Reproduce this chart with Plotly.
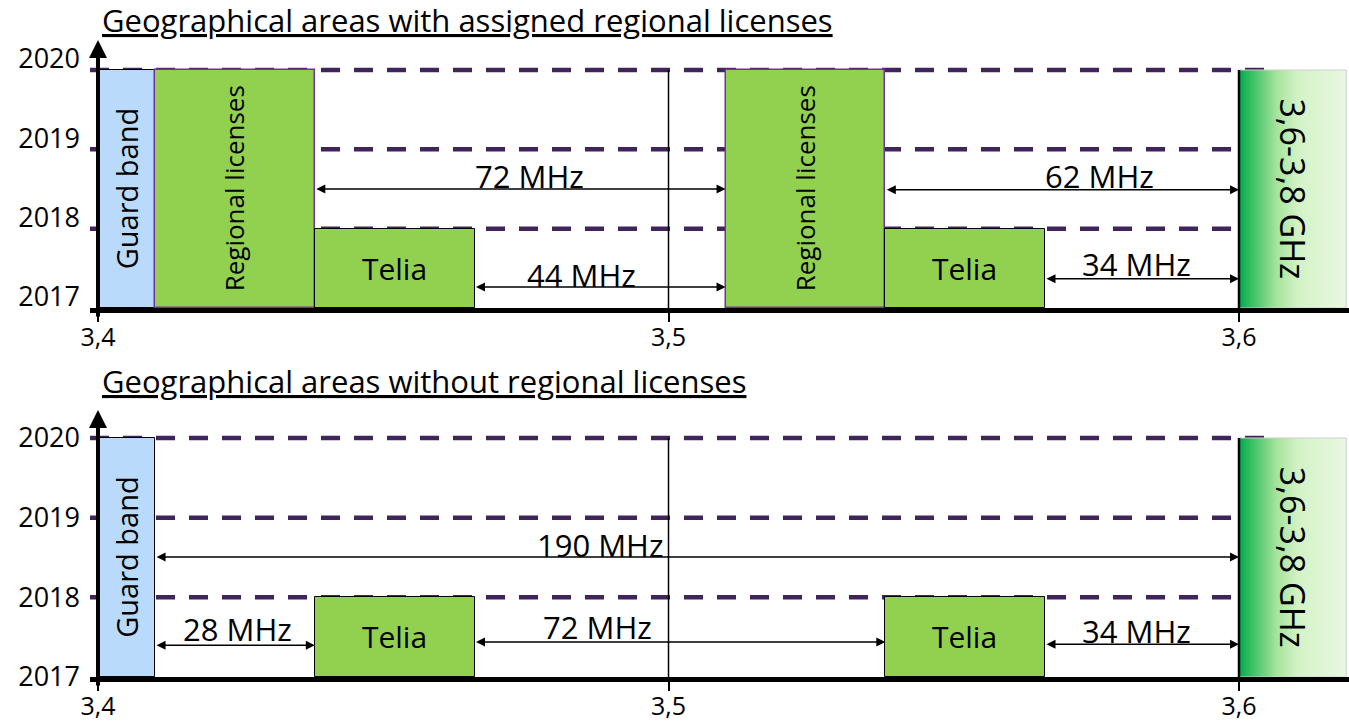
import plotly.graph_objects as go

# ---------------- data ----------------
YEARS = [2017, 2018, 2019, 2020]
YEAR_LABELS = ["2017", "2018", "2019", "2020"]
X_TICKS = [3.4, 3.5, 3.6]
X_TICK_LABELS = ["3,4", "3,5", "3,6"]

TITLES = ["Geographical areas with assigned regional licenses",
          "Geographical areas without regional licenses"]

# frequency blocks (GHz): left edge, right edge, top year
guard_left, guard_right, guard_top = 3.400, 3.410, 2020
regional_left = [3.410, 3.510]
regional_right = [3.438, 3.538]
regional_top = [2020, 2020]
telia_left = [3.438, 3.538]
telia_right = [3.466, 3.566]
telia_top = [2018, 2018]
band36_left, band36_right, band36_top = 3.600, 3.6188, 2020

# spacing arrows, panel 1 (with regional licenses)
top_arrow_from = [3.438, 3.466, 3.538, 3.566]
top_arrow_to = [3.510, 3.510, 3.600, 3.600]
top_arrow_y = [2018.50, 2017.265, 2018.49, 2017.37]
top_arrow_text = ["72 MHz", "44 MHz", "62 MHz", "34 MHz"]
top_text_x = [3.4757, 3.4847, 3.5756, 3.5821]
top_text_y = [2018.66, 2017.42, 2018.66, 2017.555]

# spacing arrows, panel 2 (without regional licenses)
bot_arrow_from = [3.410, 3.410, 3.466, 3.566]
bot_arrow_to = [3.600, 3.438, 3.538, 3.600]
bot_arrow_y = [2018.506, 2017.40, 2017.44, 2017.41]
bot_arrow_text = ["190 MHz", "28 MHz", "72 MHz", "34 MHz"]
bot_text_x = [3.488, 3.4245, 3.4876, 3.5821]
bot_text_y = [2018.657, 2017.60, 2017.63, 2017.58]

# ---------------- styling ----------------
W, H = 1349, 724
FONT = "Open Sans"
GREEN = "#92d050"
BLUE = "#b9dafa"
DASH_COLOR = "#41245a"
PURPLE_EDGE = "#7030a0"
PX_PER_GHZ = 5705.0
X0_PX = 98.0
x_range = [3.4 - 8 / PX_PER_GHZ, 3.4 + (W - X0_PX) / PX_PER_GHZ]
x_domain = [90 / W, 1.0]

panels = [
    dict(xa="x", ya="y", xname="xaxis", yname="yaxis",
         bottom_px=308, top_px=40, year_px=79.33, shift=-11,
         regional=True, title_px=20,
         arrows=(top_arrow_from, top_arrow_to, top_arrow_y, top_arrow_text, top_text_x, top_text_y)),
    dict(xa="x2", ya="y2", xname="xaxis2", yname="yaxis2",
         bottom_px=677, top_px=410, year_px=79.67, shift=0,
         regional=False, title_px=381,
         arrows=(bot_arrow_from, bot_arrow_to, bot_arrow_y, bot_arrow_text, bot_text_x, bot_text_y)),
]

fig = go.Figure()
shapes = []
annotations = []
layout_axes = {}


def bar(xa, ya, lefts, rights, tops, color, line_color, line_width, text, angle, size):
    fig.add_trace(go.Bar(
        x=[(l + r) / 2 for l, r in zip(lefts, rights)],
        y=[t - YEARS[0] for t in tops],
        base=[YEARS[0]] * len(lefts),
        width=[r - l for l, r in zip(lefts, rights)],
        marker=dict(color=color, line=dict(color=line_color, width=line_width)),
        text=[text] * len(lefts), textposition="inside", insidetextanchor="middle",
        textangle=angle, constraintext="none",
        textfont=dict(family=FONT, size=size, color="black"),
        xaxis=xa, yaxis=ya, showlegend=False, hoverinfo="skip"))


for i, p in enumerate(panels):
    xa, ya = p["xa"], p["ya"]
    yr_top = YEARS[0] + (p["bottom_px"] - p["top_px"]) / p["year_px"]
    below = YEARS[0] - 10 / p["year_px"]
    layout_axes[p["xname"]] = dict(
        domain=x_domain, range=x_range, anchor=ya, showgrid=False, zeroline=False,
        automargin=False,
        showline=True, linecolor="black", linewidth=4.5,
        tickvals=X_TICKS, ticktext=X_TICK_LABELS, ticks="outside", ticklen=9,
        tickwidth=1.5, tickcolor="black", ticklabelstandoff=-6,
        tickfont=dict(family=FONT, size=25, color="black"), fixedrange=True)
    layout_axes[p["yname"]] = dict(
        domain=[1 - p["bottom_px"] / H, 1 - p["top_px"] / H],
        range=[YEARS[0], yr_top], anchor=xa, showgrid=False, zeroline=False,
        automargin=False,
        showline=False, tickvals=YEARS, ticktext=YEAR_LABELS, ticks="",
        ticklabelstandoff=9, ticklabelshift=p["shift"],
        tickfont=dict(family=FONT, size=27, color="black"), fixedrange=True)

    # dashed year lines (below marks)
    for yv in YEARS[1:]:
        shapes.append(dict(type="line", xref=xa, yref=ya, layer="below",
                           x0=x_range[0], x1=3.4 + (1275 - X0_PX) / PX_PER_GHZ, y0=yv, y1=yv,
                           line=dict(color=DASH_COLOR, width=4.5, dash="19px,14px")))

    # blocks
    bar(xa, ya, [guard_left], [guard_right], [guard_top], BLUE, "black", 1,
        "Guard band", -90, 29)
    if p["regional"]:
        bar(xa, ya, regional_left, regional_right, regional_top, GREEN, PURPLE_EDGE, 1.5,
            "Regional licenses", -90, 26)
    bar(xa, ya, telia_left, telia_right, telia_top, GREEN, "black", 1, "Telia", 0, 30)

    # 3.6-3.8 GHz gradient block
    fig.add_trace(go.Scatter(
        x=[band36_left, band36_right, band36_right, band36_left, band36_left],
        y=[YEARS[0], YEARS[0], band36_top, band36_top, YEARS[0]],
        mode="lines", fill="toself", line=dict(color="#cfcfcf", width=1),
        fillgradient=dict(type="horizontal", colorscale=[
            [0.0, "#00a84f"], [0.12, "#3cc064"], [0.35, "#a6e39c"],
            [0.55, "#d3f2c6"], [1.0, "#eaf8e2"]]),
        xaxis=xa, yaxis=ya, showlegend=False, hoverinfo="skip"))
    annotations.append(dict(xref=xa, yref=ya, x=(band36_left + band36_right) / 2,
                            y=(YEARS[0] + band36_top) / 2, text="3,6-3,8 GHz",
                            textangle=90, showarrow=False,
                            font=dict(family=FONT, size=34, color="black")))

    # vertical reference lines
    shapes.append(dict(type="line", xref=xa, yref=ya, layer="above",
                       x0=3.5, x1=3.5, y0=YEARS[0], y1=YEARS[-1],
                       line=dict(color="black", width=1.5)))
    shapes.append(dict(type="line", xref=xa, yref=ya, layer="above",
                       x0=band36_left, x1=band36_left, y0=YEARS[0], y1=band36_top,
                       line=dict(color="black", width=2.5)))

    # y-axis arrow
    annotations.append(dict(xref=xa, yref=ya, axref=xa, ayref=ya,
                            x=3.4, y=yr_top, ax=3.4, ay=below, text="",
                            showarrow=True, arrowhead=2, arrowsize=0.9,
                            arrowwidth=4, arrowcolor="black", standoff=0, startstandoff=0))

    # spacing arrows with labels
    a_from, a_to, a_y, a_text, t_x, t_y = p["arrows"]
    for x0, x1, yv, txt, tx, ty in zip(a_from, a_to, a_y, a_text, t_x, t_y):
        annotations.append(dict(xref=xa, yref=ya, axref=xa, ayref=ya,
                                x=x1, y=yv, ax=x0, ay=yv, text="",
                                showarrow=True, arrowhead=2, arrowside="end+start",
                                arrowsize=1.2, arrowwidth=1.5, arrowcolor="black",
                                standoff=0, startstandoff=0))
        annotations.append(dict(xref=xa, yref=ya, x=tx, y=ty, text=txt, showarrow=False,
                                font=dict(family=FONT, size=31, color="black")))

    # panel title
    annotations.append(dict(xref="paper", yref="paper", x=100 / W, y=1 - p["title_px"] / H,
                            xanchor="left", yanchor="middle", showarrow=False,
                            text="<u>" + TITLES[i] + "</u>",
                            font=dict(family=FONT, size=31, color="black")))

fig.update_layout(
    width=W, height=H, margin=dict(l=0, r=0, t=0, b=0, autoexpand=False),
    paper_bgcolor="white", plot_bgcolor="rgba(0,0,0,0)",
    barmode="overlay", bargap=0, showlegend=False,
    shapes=shapes, annotations=annotations, **layout_axes)

fig.write_html("out.html", config={"displayModeBar": False},
               post_script="document.body.style.margin='0';document.body.style.padding='0';")
